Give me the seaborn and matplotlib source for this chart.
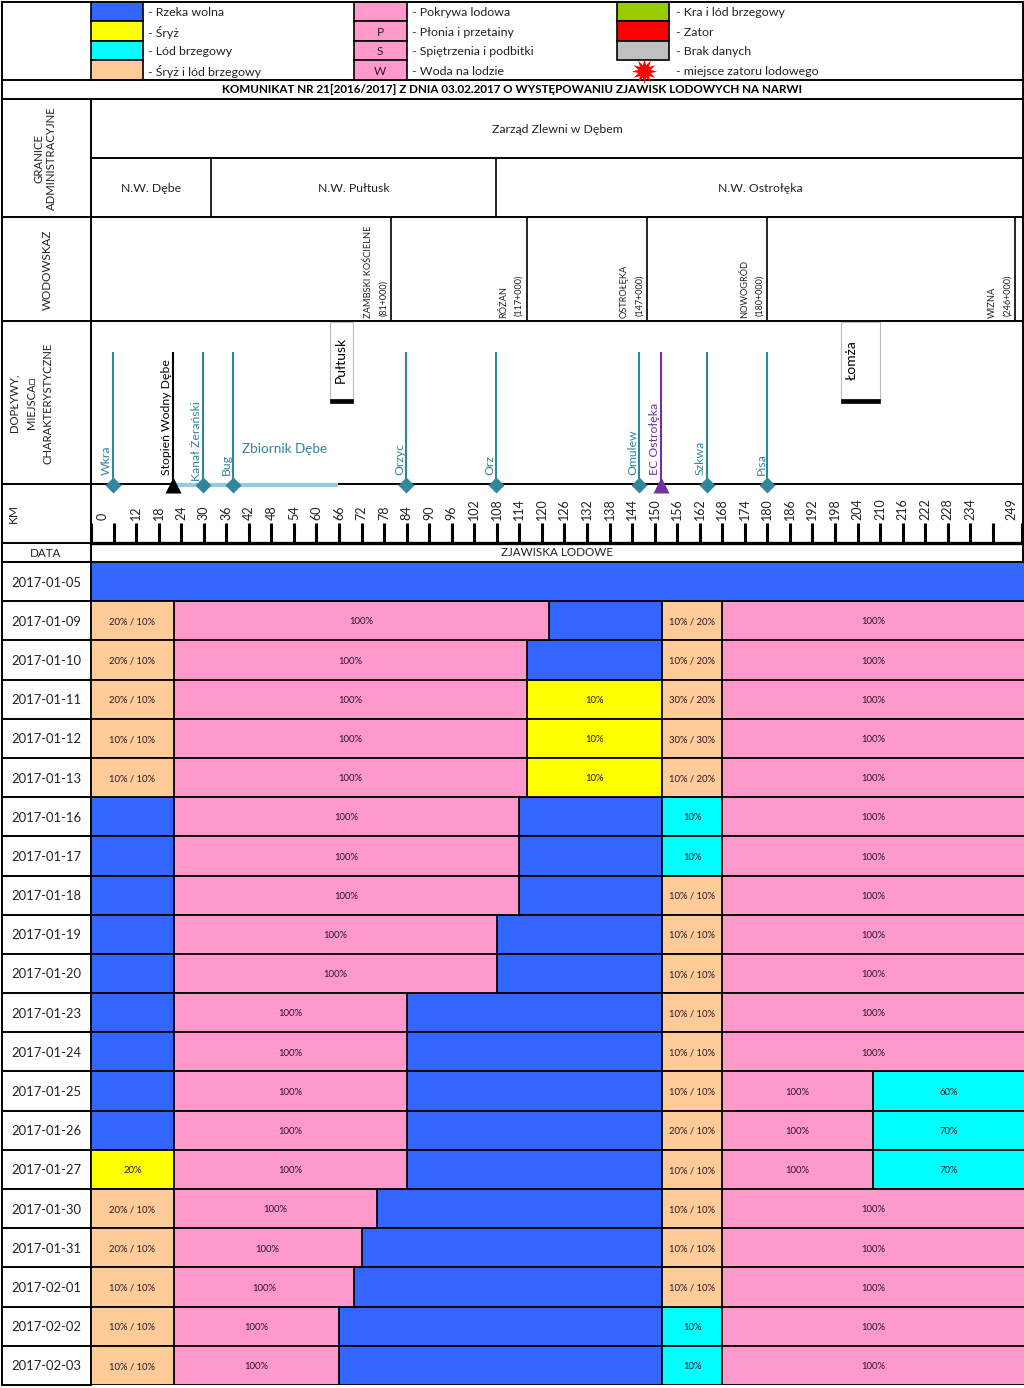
import matplotlib
matplotlib.use("Agg")
import matplotlib.pyplot as plt
import pandas as pd
import seaborn as sns
from matplotlib.patches import Rectangle

# ice states and their colours
state_names = ["wolna", "sryz", "lod", "sryz_lod", "pokrywa"]
state_colors = ["#3366FF", "#FFFF00", "#00FFFF", "#FFCC99", "#FF99CC"]
palette = dict(zip(state_names, state_colors))

dates = [
    "2017-01-05", "2017-01-09", "2017-01-10", "2017-01-11", "2017-01-12", "2017-01-13",
    "2017-01-16", "2017-01-17", "2017-01-18", "2017-01-19", "2017-01-20", "2017-01-23",
    "2017-01-24", "2017-01-25", "2017-01-26", "2017-01-27", "2017-01-30", "2017-01-31",
    "2017-02-01", "2017-02-02", "2017-02-03",
]
# where each segment ends along the river [km], one list per date
seg_ends = [
    [249],
    [22, 122, 152, 168, 249],
    [22, 116, 152, 168, 249],
    [22, 116, 152, 168, 249],
    [22, 116, 152, 168, 249],
    [22, 116, 152, 168, 249],
    [22, 114, 152, 168, 249],
    [22, 114, 152, 168, 249],
    [22, 114, 152, 168, 249],
    [22, 108, 152, 168, 249],
    [22, 108, 152, 168, 249],
    [22, 84, 152, 168, 249],
    [22, 84, 152, 168, 249],
    [22, 84, 152, 168, 208, 249],
    [22, 84, 152, 168, 208, 249],
    [22, 84, 152, 168, 208, 249],
    [22, 76, 152, 168, 249],
    [22, 72, 152, 168, 249],
    [22, 70, 152, 168, 249],
    [22, 66, 152, 168, 249],
    [22, 66, 152, 168, 249],
]
seg_states = [
    ["wolna"],
    ["sryz_lod", "pokrywa", "wolna", "sryz_lod", "pokrywa"],
    ["sryz_lod", "pokrywa", "wolna", "sryz_lod", "pokrywa"],
    ["sryz_lod", "pokrywa", "sryz", "sryz_lod", "pokrywa"],
    ["sryz_lod", "pokrywa", "sryz", "sryz_lod", "pokrywa"],
    ["sryz_lod", "pokrywa", "sryz", "sryz_lod", "pokrywa"],
    ["wolna", "pokrywa", "wolna", "lod", "pokrywa"],
    ["wolna", "pokrywa", "wolna", "lod", "pokrywa"],
    ["wolna", "pokrywa", "wolna", "sryz_lod", "pokrywa"],
    ["wolna", "pokrywa", "wolna", "sryz_lod", "pokrywa"],
    ["wolna", "pokrywa", "wolna", "sryz_lod", "pokrywa"],
    ["wolna", "pokrywa", "wolna", "sryz_lod", "pokrywa"],
    ["wolna", "pokrywa", "wolna", "sryz_lod", "pokrywa"],
    ["wolna", "pokrywa", "wolna", "sryz_lod", "pokrywa", "lod"],
    ["wolna", "pokrywa", "wolna", "sryz_lod", "pokrywa", "lod"],
    ["sryz", "pokrywa", "wolna", "sryz_lod", "pokrywa", "lod"],
    ["sryz_lod", "pokrywa", "wolna", "sryz_lod", "pokrywa"],
    ["sryz_lod", "pokrywa", "wolna", "sryz_lod", "pokrywa"],
    ["sryz_lod", "pokrywa", "wolna", "sryz_lod", "pokrywa"],
    ["sryz_lod", "pokrywa", "wolna", "lod", "pokrywa"],
    ["sryz_lod", "pokrywa", "wolna", "lod", "pokrywa"],
]
seg_labels = [
    [""],
    ["20% / 10%", "100%", "", "10% / 20%", "100%"],
    ["20% / 10%", "100%", "", "10% / 20%", "100%"],
    ["20% / 10%", "100%", "10%", "30% / 20%", "100%"],
    ["10% / 10%", "100%", "10%", "30% / 30%", "100%"],
    ["10% / 10%", "100%", "10%", "10% / 20%", "100%"],
    ["", "100%", "", "10%", "100%"],
    ["", "100%", "", "10%", "100%"],
    ["", "100%", "", "10% / 10%", "100%"],
    ["", "100%", "", "10% / 10%", "100%"],
    ["", "100%", "", "10% / 10%", "100%"],
    ["", "100%", "", "10% / 10%", "100%"],
    ["", "100%", "", "10% / 10%", "100%"],
    ["", "100%", "", "10% / 10%", "100%", "60%"],
    ["", "100%", "", "20% / 10%", "100%", "70%"],
    ["20%", "100%", "", "10% / 10%", "100%", "70%"],
    ["20% / 10%", "100%", "", "10% / 10%", "100%"],
    ["20% / 10%", "100%", "", "10% / 10%", "100%"],
    ["10% / 10%", "100%", "", "10% / 10%", "100%"],
    ["10% / 10%", "100%", "", "10%", "100%"],
    ["10% / 10%", "100%", "", "10%", "100%"],
]

# river axis
tick_km = list(range(0, 246, 6)) + [247.8]
label_km = [3] + list(range(12, 235, 6)) + [245]
label_text = ["0"] + [str(k) for k in range(12, 235, 6)] + ["249"]

tributaries = ["Wkra", "Kanał Żerański", "Bug", "Orzyc", "Orz", "Omulew", "Szkwa", "Pisa"]
tributary_km = [5.8, 29.8, 37.8, 83.8, 107.8, 145.8, 163.9, 180]
dam_km = [21.8]
plant_km = [151.7]
reservoir_km = [22, 65.7]
towns = ["Pułtusk", "Łomża"]
town_start_km = [63.6, 199.6]
town_end_km = [69.7, 210]
gauge_names = ["ZAMBSKI KOŚCIELNE", "RÓŻAN", "OSTROŁĘKA", "NOWOGRÓD", "WIZNA"]
gauge_chainage = ["(81+000)", "(117+000)", "(147+000)", "(180+000)", "(246+000)"]
gauge_line_km = [79.9, 116, 148, 180, 246]
admin_bound_km = [32, 107.8]

# legend columns
legend_col1 = ["- Rzeka wolna", "- Śryż", "- Lód brzegowy", "- Śryż i lód brzegowy"]
legend_col2 = ["- Pokrywa lodowa", "- Płonia i przetainy", "- Spiętrzenia i podbitki", "- Woda na lodzie"]
legend_col3 = ["- Kra i lód brzegowy", "- Zator", "- Brak danych", "- miejsce zatoru lodowego"]
col1_colors = ["#3366FF", "#FFFF00", "#00FFFF", "#FFCC99"]
col2_letters = ["", "P", "S", "W"]
col3_colors = ["#99CC00", "#FF0000", "#C0C0C0"]

TEAL = "#31859C"
PURPLE = "#7030A0"
INK = "#222222"

sns.set_theme(style="white")
plt.rcParams["font.family"] = ["Lato", "DejaVu Sans"]

W, H = 1024, 1388
fig = plt.figure(figsize=(W / 100, H / 100), dpi=100)


def px_axes(x0, y0, x1, y1):
    return fig.add_axes([x0 / W, 1 - y1 / H, (x1 - x0) / W, (y1 - y0) / H], facecolor="none")


# table frame and header texts, in pixels
frame = px_axes(0, 0, W, H)
frame.set_xlim(0, W)
frame.set_ylim(H, 0)
frame.axis("off")

for y in [2, 80, 99, 158, 217, 321, 484, 543, 562]:
    x0 = 91 if y == 158 else 2
    frame.plot([x0, 1023], [y, y], color="black", lw=1.4)
frame.plot([2, 2], [2, 1385], color="black", lw=1.4)
frame.plot([1023, 1023], [2, 562], color="black", lw=1.4)
frame.plot([91, 91], [99, 1385], color="black", lw=1.4)

row_h = (1385 - 562) / len(dates)
for i in range(len(dates) + 1):
    frame.plot([2, 91], [562 + i * row_h] * 2, color="black", lw=1.4)

# legend
rows_y = [2, 21, 41, 60, 80]
for i in range(4):
    mid = (rows_y[i] + rows_y[i + 1]) / 2 + 1
    frame.add_patch(Rectangle((91, rows_y[i]), 52, rows_y[i + 1] - rows_y[i], fc=col1_colors[i], ec="black", lw=1.2))
    frame.add_patch(Rectangle((354, rows_y[i]), 53, rows_y[i + 1] - rows_y[i], fc="#FF99CC", ec="black", lw=1.2))
    frame.text(380, mid, col2_letters[i], ha="center", va="center", fontsize=8.6, color=INK)
    if i < 3:
        frame.add_patch(Rectangle((617, rows_y[i]), 52, rows_y[i + 1] - rows_y[i], fc=col3_colors[i], ec="black", lw=1.2))
    frame.text(148, mid, legend_col1[i], va="center", fontsize=8.9, color=INK)
    frame.text(412, mid, legend_col2[i], va="center", fontsize=8.9, color=INK)
    frame.text(676, mid, legend_col3[i], va="center", fontsize=8.9, color=INK)
frame.scatter([643.5], [71], marker=(12, 1, 0), s=330, color="#FF0000", linewidth=0, zorder=5)

frame.text(512.5, 89.5, "KOMUNIKAT NR 21[2016/2017] Z DNIA 03.02.2017 O WYSTĘPOWANIU ZJAWISK LODOWYCH NA NARWI",
           ha="center", va="center", fontsize=8.4, fontweight="bold", color="black")
frame.text(557, 129, "Zarząd Zlewni w Dębem", ha="center", va="center", fontsize=8.8, color=INK)
frame.text(151, 188, "N.W. Dębe", ha="center", va="center", fontsize=8.8, color=INK)
frame.text(354, 188, "N.W. Pułtusk", ha="center", va="center", fontsize=8.8, color=INK)
frame.text(760, 188, "N.W. Ostrołęka", ha="center", va="center", fontsize=8.8, color=INK)
frame.text(557, 552, "ZJAWISKA LODOWE", ha="center", va="center", fontsize=8.4, color=INK)
frame.text(46, 553, "DATA", ha="center", va="center", fontsize=8.4, color=INK)
frame.text(45, 158, "GRANICE\nADMINISTRACYJNE", rotation=90, ha="center", va="center",
           multialignment="center", fontsize=8.2, color=INK)
frame.text(47, 270, "WODOWSKAZ", rotation=90, ha="center", va="center", fontsize=8.4, color=INK)
frame.text(31, 403, "DOPŁYWY,\nMIEJSCA□\nCHARAKTERYSTYCZNE", rotation=90, ha="center", va="center",
           multialignment="center", fontsize=8.1, linespacing=1.7, color=INK)
frame.text(13.5, 513, "KM", rotation=90, ha="center", va="center", fontsize=8.6, color=INK)

# river panel: x in km, y in pixels
ax_km = px_axes(91, 158, 1024, 543)
ax_km.set_xlim(0, 248.3)
ax_km.set_ylim(543, 158)
for side in ["top", "left", "right"]:
    ax_km.spines[side].set_visible(False)
ax_km.spines["bottom"].set_linewidth(2.4)
ax_km.spines["bottom"].set_color("black")
ax_km.set_yticks([])
ax_km.xaxis.remove_overlapping_locs = False
ax_km.set_xticks(tick_km, minor=True)
ax_km.set_xticks(label_km, label_text, rotation=90, va="bottom", ha="center", fontsize=9, color=INK)
ax_km.tick_params(axis="x", which="minor", direction="in", length=14.4, width=2.2, color="black", bottom=True)
ax_km.tick_params(axis="x", which="major", length=0, pad=-16.5)

ax_km.vlines(admin_bound_km, 158, 217, color="black", lw=1.2)
ax_km.vlines(gauge_line_km, 217, 321, color="black", lw=1.2)
for km, name, chain in zip(gauge_line_km, gauge_names, gauge_chainage):
    ax_km.text(km - 6.1, 318, name, rotation=90, ha="center", va="bottom", fontsize=6.7, color=INK)
    ax_km.text(km - 2.1, 316, chain, rotation=90, ha="center", va="bottom", fontsize=6.5, color=INK)

ax_km.hlines(485, reservoir_km[0], reservoir_km[1], color="#92CDDC", lw=3)
ax_km.text(51.5, 449, "Zbiornik Dębe", ha="center", va="center", fontsize=9.7, color=TEAL)
ax_km.vlines(tributary_km, 352, 485, color=TEAL, lw=1.5)
ax_km.vlines(dam_km, 352, 485, color="black", lw=1.5)
ax_km.vlines(plant_km, 352, 485, color=PURPLE, lw=1.5)

sns.scatterplot(x=tributary_km, y=[485] * len(tributary_km), marker="D", s=66, color=TEAL, linewidth=0, ax=ax_km, zorder=4)
sns.scatterplot(x=dam_km, y=[485], marker="^", s=133, color="black", linewidth=0, ax=ax_km, zorder=4)
sns.scatterplot(x=plant_km, y=[485], marker="^", s=133, color=PURPLE, linewidth=0, ax=ax_km, zorder=4)

for km, name in zip(tributary_km, tributaries):
    bottom = 481 if name == "Kanał Żerański" else 475
    ax_km.text(km - 1.7, bottom, name, rotation=90, ha="center", va="bottom", fontsize=8.8, color=TEAL)
ax_km.text(dam_km[0] - 1.7, 475, "Stopień Wodny Dębe", rotation=90, ha="center", va="bottom", fontsize=8.8, color="black")
ax_km.text(plant_km[0] - 1.7, 475, "EC Ostrołęka", rotation=90, ha="center", va="bottom", fontsize=8.8, color=PURPLE)

for start, end, name in zip(town_start_km, town_end_km, towns):
    ax_km.bar(start, 78, width=end - start, bottom=322, align="edge", fc="white", ec="#BBBBBB", lw=0.8)
    ax_km.bar(start, 4, width=end - start, bottom=399, align="edge", fc="black", ec="black", lw=0.5)
    ax_km.text(start + 2.8, 360, name, rotation=90, ha="center", va="center", fontsize=10, color="black")

# ice bars: longest layer first, shorter ones painted over it
ax_bars = px_axes(91, 562, 1024, 1385)
n_layers = max(len(e) for e in seg_ends)
for layer in range(n_layers - 1, -1, -1):
    rows = [i for i in range(len(dates)) if layer < len(seg_ends[i])]
    layer_df = pd.DataFrame({
        "date": [dates[i] for i in rows],
        "end": [seg_ends[i][layer] for i in rows],
        "state": [seg_states[i][layer] for i in rows],
    })
    sns.barplot(data=layer_df, x="end", y="date", hue="state", hue_order=state_names, palette=palette,
                order=dates, dodge=False, width=1, saturation=1, errorbar=None, legend=False,
                edgecolor="black", linewidth=1.3, ax=ax_bars)

ax_bars.set_xlim(0, 248.3)
ax_bars.set_ylim(len(dates) - 0.5, -0.5)
ax_bars.set_xlabel("")
ax_bars.set_ylabel("")
ax_bars.set_xticks([])
ax_bars.tick_params(axis="y", length=0, pad=7.2, labelsize=9.4, labelcolor=INK)
sns.despine(ax=ax_bars, left=True, bottom=True)

for i, (ends, labels) in enumerate(zip(seg_ends, seg_labels)):
    start = 0
    for end, label in zip(ends, labels):
        stop = min(end, 248.3)
        if label:
            ax_bars.text((start + stop) / 2, i + 0.03, label, ha="center", va="center", fontsize=6.8, color="#2a1522")
        start = stop

fig.savefig("out.png", dpi=100)
